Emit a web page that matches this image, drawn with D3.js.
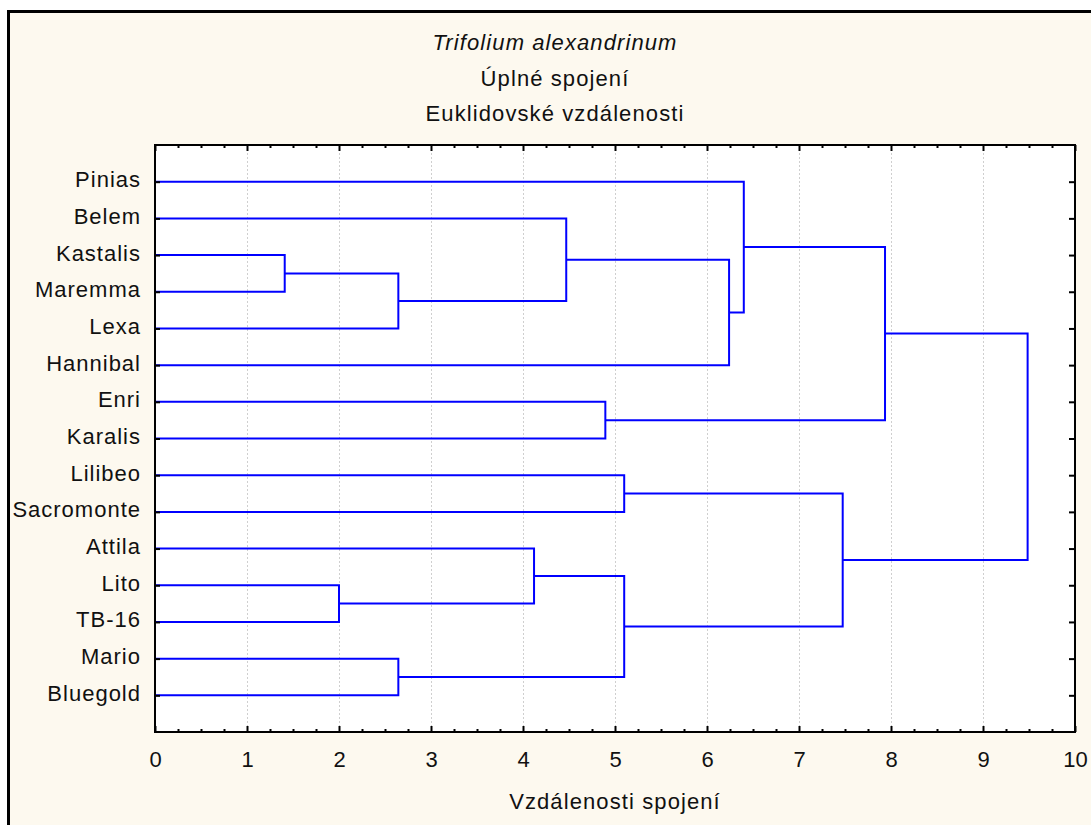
<!DOCTYPE html>
<html>
<head>
<meta charset="utf-8">
<script src="https://cdn.jsdelivr.net/npm/d3@7"></script>
<style>
  html, body { margin: 0; padding: 0; background: #ffffff; }
  svg { display: block; }
  text { font-family: "Liberation Sans", Arial, sans-serif; fill: #111; }
</style>
</head>
<body>
<svg id="chart" width="1091" height="825"></svg>
<script>
// ---- data ----
const titleLines = ["Trifolium alexandrinum", "Úplné spojení", "Euklidovské vzdálenosti"];
const xAxisTitle = "Vzdálenosti spojení";
const leaves = ["Pinias","Belem","Kastalis","Maremma","Lexa","Hannibal","Enri","Karalis",
                "Lilibeo","Sacromonte","Attila","Lito","TB-16","Mario","Bluegold"];
// merges: cluster ids 0..14 are leaves, merge k gets id 15+k
const mergeLeft   = [2, 11, 15, 13, 10, 1, 6, 8, 19, 20, 0, 22, 25, 27];
const mergeRight  = [3, 12, 4, 14, 16, 17, 7, 9, 18, 5, 24, 23, 21, 26];
const mergeHeight = [1.41, 2.00, 2.645, 2.645, 4.12, 4.47, 4.895, 5.10, 5.10, 6.24, 6.40, 7.475, 7.935, 9.485];
const xTicks = [0,1,2,3,4,5,6,7,8,9,10];

// ---- layout ----
const svg = d3.select("#chart");
const plot = {left: 155, right: 1075, top: 145, bottom: 732};

const x = d3.scaleLinear().domain([0, 10]).range([plot.left, plot.right]);
const y = d3.scalePoint().domain(leaves).range([plot.top, plot.bottom]).padding(1);

// outer background & frame
svg.append("rect").attr("x", 8.5).attr("y", 11.5).attr("width", 1110).attr("height", 840)
  .attr("fill", "#fdf9ef").attr("stroke", "#000").attr("stroke-width", 3);

// plot area
svg.append("rect").attr("x", plot.left).attr("y", plot.top)
  .attr("width", plot.right - plot.left).attr("height", plot.bottom - plot.top)
  .attr("fill", "#ffffff");

// gridlines
svg.append("g").selectAll("line").data(xTicks.filter(d => d > 0 && d < 10)).join("line")
  .attr("x1", d => x(d) + 0.5).attr("x2", d => x(d) + 0.5)
  .attr("y1", plot.top).attr("y2", plot.bottom)
  .attr("stroke", "#cfcfcf").attr("stroke-width", 1).attr("stroke-dasharray", "2,2");

// dendrogram geometry
const nodeX = {}, nodeY = {};
leaves.forEach((name, i) => { nodeX[i] = 0; nodeY[i] = y(name); });
const links = [];
mergeHeight.forEach((h, k) => {
  const id = leaves.length + k;
  const a = mergeLeft[k], b = mergeRight[k];
  nodeX[id] = h;
  nodeY[id] = (nodeY[a] + nodeY[b]) / 2;
  links.push({a, b, h});
});

const pathGen = l => {
  const p = d3.path();
  p.moveTo(x(nodeX[l.a]), nodeY[l.a]);
  p.lineTo(x(l.h), nodeY[l.a]);
  p.lineTo(x(l.h), nodeY[l.b]);
  p.lineTo(x(nodeX[l.b]), nodeY[l.b]);
  return p.toString();
};

svg.append("g").selectAll("path").data(links).join("path")
  .attr("d", pathGen)
  .attr("fill", "none").attr("stroke", "#0000ff").attr("stroke-width", 2)
  .attr("stroke-linejoin", "miter");

// axes (ticks inward)
const minor = d3.range(0, 10.001, 0.25).filter(v => Math.abs(v - Math.round(v)) > 1e-6);

function styleAxis(g) {
  g.select(".domain").remove();
  g.selectAll(".tick line").attr("stroke", "#000").attr("stroke-width", 2);
}

// bottom major with labels
svg.append("g").attr("transform", `translate(0,${plot.bottom})`)
  .call(d3.axisBottom(x).tickValues(xTicks).tickFormat(d3.format("d")).tickSizeInner(-6).tickSizeOuter(0).tickPadding(19))
  .call(styleAxis)
  .call(g => g.selectAll(".tick text").attr("font-size", 22).attr("fill", "#111")
     .attr("font-family", "Liberation Sans, Arial, sans-serif"));
// bottom minor
svg.append("g").attr("transform", `translate(0,${plot.bottom})`)
  .call(d3.axisBottom(x).tickValues(minor).tickFormat("").tickSizeInner(-3).tickSizeOuter(0))
  .call(styleAxis);
// top major & minor
svg.append("g").attr("transform", `translate(0,${plot.top})`)
  .call(d3.axisTop(x).tickValues(xTicks).tickFormat("").tickSizeInner(-6).tickSizeOuter(0))
  .call(styleAxis);
svg.append("g").attr("transform", `translate(0,${plot.top})`)
  .call(d3.axisTop(x).tickValues(minor).tickFormat("").tickSizeInner(-3).tickSizeOuter(0))
  .call(styleAxis);
// left with labels
svg.append("g").attr("transform", `translate(${plot.left},0)`)
  .call(d3.axisLeft(y).tickSizeInner(-5).tickSizeOuter(0).tickPadding(14))
  .call(styleAxis)
  .call(g => g.selectAll(".tick text").attr("font-size", 22).attr("fill", "#111")
     .attr("dy", "5").attr("letter-spacing", "1px")
     .attr("font-family", "Liberation Sans, Arial, sans-serif"));
// right
svg.append("g").attr("transform", `translate(${plot.right},0)`)
  .call(d3.axisRight(y).tickFormat("").tickSizeInner(-6).tickSizeOuter(0))
  .call(styleAxis);

// plot frame
svg.append("rect").attr("x", plot.left).attr("y", plot.top)
  .attr("width", plot.right - plot.left).attr("height", plot.bottom - plot.top)
  .attr("fill", "none").attr("stroke", "#000").attr("stroke-width", 2);

// titles
const titleBaselines = [50, 86, 121];
svg.append("g").selectAll("text").data(titleLines).join("text")
  .attr("x", 555).attr("y", (d, i) => titleBaselines[i])
  .attr("text-anchor", "middle").attr("font-size", 22).attr("letter-spacing", "1.1px")
  .attr("font-style", (d, i) => i === 0 ? "italic" : "normal")
  .text(d => d);

// x axis title
svg.append("text").attr("x", 615).attr("y", 809).attr("text-anchor", "middle")
  .attr("font-size", 22).attr("letter-spacing", "1.1px").text(xAxisTitle);
</script>
</body>
</html>
